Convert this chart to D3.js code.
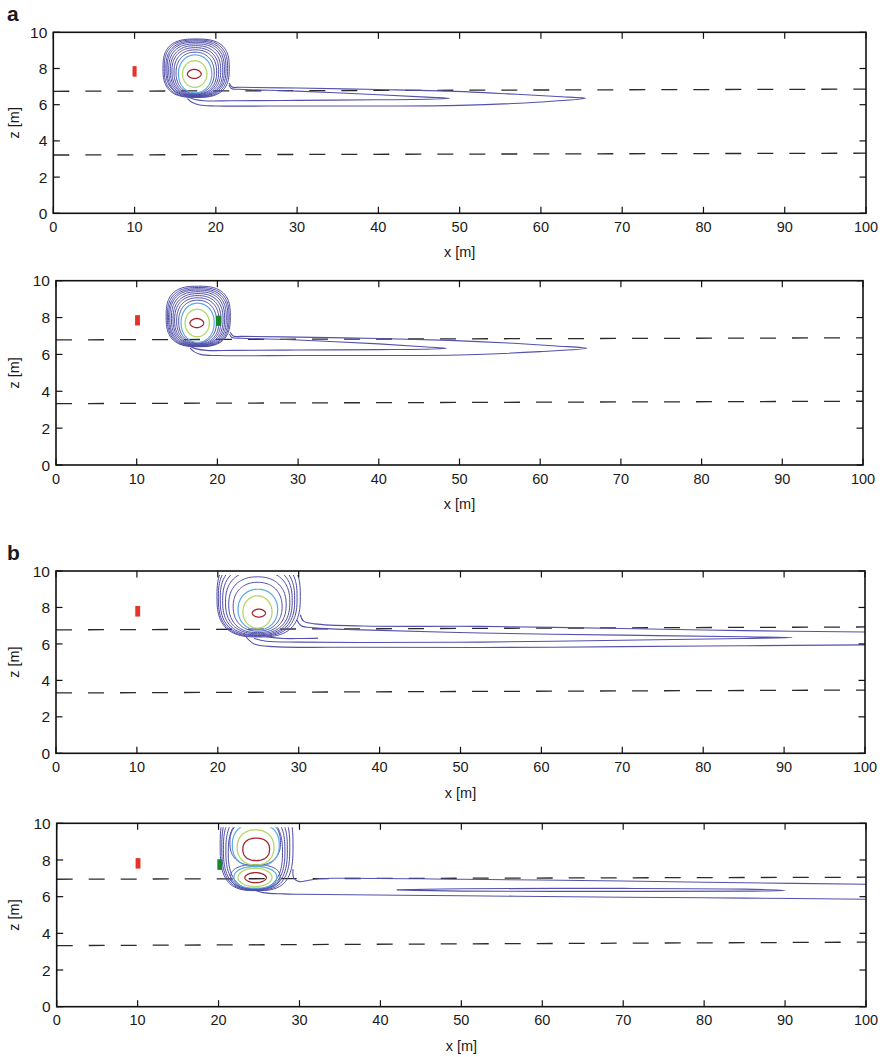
<!DOCTYPE html>
<html><head><meta charset="utf-8">
<script src="https://cdn.jsdelivr.net/npm/d3@7"></script>
<style>
body{margin:0;background:#fff}
svg{display:block}
text{font-family:"Liberation Sans",Arial,Helvetica,sans-serif;fill:#1a1a1a}
</style>
</head><body>
<svg id="chart" width="887" height="1057"></svg>
<script>
// ---------------- data ----------------
const xTicks = [0,10,20,30,40,50,60,70,80,90,100];
const zTicks = [0,2,4,6,8,10];
const xLabel = "x [m]";
const zLabel = "z [m]";
const panelLetters = ["a","b"];

// contour rings: [level, xLeft, xRight, zBottom, zTop, squareness]
// level 0 = innermost (dark red), 1 = green, 2 = light blue, 3 = blue
const rings1 = [
  [0,16.5,18.2,7.45,7.95,1.8],[1,15.9,18.9,6.96,8.43,2.0],[2,15.4,19.5,6.66,8.75,2.1],
  [3,15.1,19.8,6.62,8.9,2.2],[3,14.85,20.1,6.58,9.03,2.3],[3,14.6,20.35,6.55,9.15,2.35],
  [3,14.4,20.6,6.52,9.26,2.4],[3,14.2,20.85,6.5,9.36,2.5],[3,14.0,21.05,6.47,9.45,2.55],
  [3,13.85,21.25,6.45,9.52,2.6],[3,13.65,21.45,6.42,9.58,2.7],[3,13.5,21.65,6.4,9.63,2.8]
];
const rings2 = [
  [0,16.6,18.3,7.45,7.95,1.8],[1,16.0,19.0,6.96,8.45,2.0],[2,15.5,19.6,6.66,8.78,2.1],
  [3,15.2,19.9,6.62,8.94,2.2],[3,14.95,20.2,6.58,9.07,2.3],[3,14.7,20.45,6.55,9.19,2.35],
  [3,14.5,20.7,6.52,9.3,2.4],[3,14.3,20.9,6.5,9.4,2.5],[3,14.1,21.1,6.47,9.49,2.55],
  [3,13.95,21.3,6.45,9.56,2.6],[3,13.8,21.45,6.43,9.63,2.7],[3,13.65,21.6,6.42,9.7,2.8]
];
const rings3 = [
  [0,24.25,25.9,7.47,7.91,1.8],[1,23.1,26.7,6.87,8.64,2.0],[2,22.5,27.4,6.77,9.0,2.1],
  [3,21.9,27.95,6.7,9.38,2.2],[3,21.35,28.45,6.62,9.68,2.3],[3,20.95,28.9,6.56,10.0,2.4],
  [3,20.6,29.2,6.5,10.25,2.5],[3,20.3,29.5,6.46,10.45,2.6],[3,20.07,29.8,6.42,10.65,2.7],
  [3,19.9,30.2,6.38,10.85,2.8]
];
const rings4 = [
  [0,23.0,26.3,7.97,9.19,2.3],[1,22.3,26.85,7.73,9.64,2.2],[2,21.7,27.5,7.64,10.0,2.3],
  [0,23.25,25.9,6.76,7.31,1.9],[1,22.4,26.6,6.55,7.55,2.0],[2,21.9,27.2,6.46,7.64,2.2],
  [3,21.4,27.65,7.7,10.2,2.4],[3,21.5,27.6,6.43,7.75,2.3],
  [3,21.2,27.9,6.42,10.4,2.5],[3,20.9,28.2,6.4,10.6,2.6],[3,20.6,28.5,6.37,10.8,2.7],
  [3,20.4,28.8,6.35,11.0,2.85],[3,20.2,29.2,6.33,11.2,3.0]
];

// open contour branches (tails), [x, z]
const tails1 = [
  [[21.6,7.1],[21.9,6.9],[23,6.85],[30,6.75],[40,6.55],[46,6.42],[48.8,6.35],[46,6.3],[40,6.27],[30,6.24],[22,6.22],[18.5,6.22],[17.3,6.3],[16.6,6.42]],
  [[21.65,7.2],[22.0,6.98],[23,6.96],[30,6.92],[40,6.84],[48.8,6.75],[56,6.6],[62,6.45],[65.5,6.35],[60,6.15],[50,5.96],[40,5.93],[30,5.93],[20,5.93],[18,5.98],[17,6.15],[16.5,6.35]]
];
const tails2 = [
  [[21.5,7.1],[21.8,6.92],[23,6.88],[30,6.78],[40,6.57],[45.5,6.42],[48.4,6.33],[45.5,6.28],[40,6.26],[30,6.24],[22,6.22],[18.6,6.22],[17.4,6.3],[16.7,6.42]],
  [[21.6,7.2],[21.95,7.0],[23,6.98],[30,6.94],[40,6.86],[48.8,6.76],[56,6.62],[62,6.46],[65.8,6.33],[60,6.15],[50,5.97],[40,5.94],[30,5.94],[20,5.94],[18,5.99],[17.1,6.15],[16.6,6.35]]
];
const tails3 = [
  [[30.2,7.6],[30.6,7.25],[32,7.1],[38,6.98],[52.5,6.96],[70,6.85],[85,6.73],[100,6.65]],
  [[29.8,7.3],[30.3,7.0],[32,6.88],[37.8,6.77],[52.5,6.6],[70,6.48],[85,6.39],[91,6.35],[85,6.3],[70,6.2],[52.5,6.1],[37.8,6.08],[30,6.1],[26,6.15],[24.5,6.3]],
  [[26,6.4],[28,6.3],[30.5,6.3],[32.4,6.32]],
  [[23.5,6.38],[24.5,6.0],[27,5.85],[37.8,5.82],[52.5,5.8],[70,5.85],[85,5.9],[100,5.95]]
];
const tails4 = [
  [[29.2,7.5],[29.3,7.0],[30.0,6.82],[31.0,6.88],[32,6.95],[34,7.0],[50,6.95],[70,6.85],[85,6.76],[100,6.68]],
  [[42,6.37],[50,6.43],[70,6.45],[85,6.41],[90,6.33],[85,6.3],[70,6.29],[50,6.3],[42,6.37]],
  [[24.5,6.35],[25.5,6.22],[28,6.15],[30,6.13],[50,6.05],[70,5.97],[85,5.92],[100,5.86]]
];

// dashed layer boundaries [[x,z],[x,z]]
const dash1 = [[[0,6.74],[100,6.86]],[[0,3.22],[100,3.32]]];
const dash2 = [[[0,6.79],[100,6.9]],[[0,3.33],[100,3.46]]];
const dash3 = [[[0,6.77],[100,6.93]],[[0,3.31],[100,3.47]]];
const dash4 = [[[0,6.95],[100,7.06]],[[0,3.33],[100,3.52]]];

// red / green markers [x0, x1, z0, z1]
const red1 = [9.75,10.25,7.55,8.13];
const red2 = [9.8,10.4,7.57,8.13];
const red3 = [9.8,10.4,7.5,8.08];
const red4 = [9.75,10.35,7.53,8.1];
const green2 = [19.8,20.45,7.55,8.1];
const green4 = [19.85,20.45,7.46,8.04];

// ---------------- layout ----------------
const panels = [
  {left:53.3,right:866,top:32.3,bottom:213.3,tickBase:232,labBase:257,rings:rings1,tails:tails1,dash:dash1,red:red1,green:null},
  {left:56,right:863,top:280.7,bottom:465,tickBase:484,labBase:509,rings:rings2,tails:tails2,dash:dash2,red:red2,green:green2},
  {left:56,right:865,top:571,bottom:753.3,tickBase:772,labBase:798,rings:rings3,tails:tails3,dash:dash3,red:red3,green:null},
  {left:56.7,right:866,top:823.3,bottom:1006.7,tickBase:1025,labBase:1051,rings:rings4,tails:tails4,dash:dash4,red:red4,green:green4}
];
const levelColor = ["#a0262a","#b5d66c","#5aabe2","#4c4aa6"];
const levelWidth = [1.3,1.3,1.2,1.0];
const tailColor = "#5351ad";

const svg = d3.select("#chart");

function ringPts(r){
  const [lev,xL,xR,zB,zT,n] = r;
  const cx=(xL+xR)/2, cz=(zB+zT)/2, a=(xR-xL)/2, b=(zT-zB)/2;
  return d3.range(0,120).map(i=>{
    const t = i/120*2*Math.PI, c=Math.cos(t), s=Math.sin(t);
    return [cx + a*Math.sign(c)*Math.pow(Math.abs(c),2/n), cz + b*Math.sign(s)*Math.pow(Math.abs(s),2/n)];
  });
}

panels.forEach((p,pi)=>{
  const x = d3.scaleLinear().domain([0,100]).range([p.left,p.right]);
  const z = d3.scaleLinear().domain([0,10]).range([p.bottom,p.top]);
  const g = svg.append("g");
  const clipId = "clip"+pi;
  g.append("clipPath").attr("id",clipId).append("rect")
    .attr("x",x(0)).attr("y",z(9.78)).attr("width",x(100)-x(0)).attr("height",z(0)-z(9.78));

  const lineXZ = d3.line().x(d=>x(d[0])).y(d=>z(d[1]));
  g.selectAll(".dash").data(p.dash).join("path")
    .attr("d",lineXZ).attr("fill","none").attr("stroke","#2a2a2a")
    .attr("stroke-width",1.3).attr("stroke-dasharray","16,16");

  const cg = g.append("g").attr("clip-path",`url(#${clipId})`);
  const closed = d3.line().x(d=>x(d[0])).y(d=>z(d[1])).curve(d3.curveLinearClosed);
  const order = p.rings.slice().sort((a,b)=>b[0]-a[0]);
  cg.selectAll(".ring").data(order).join("path")
    .attr("d",r=>closed(ringPts(r)))
    .attr("fill","none").attr("stroke",r=>levelColor[r[0]]).attr("stroke-width",r=>levelWidth[r[0]]);
  const open = d3.line().x(d=>x(d[0])).y(d=>z(d[1])).curve(d3.curveCatmullRom.alpha(0.5));
  cg.selectAll(".tail").data(p.tails).join("path")
    .attr("d",open).attr("fill","none").attr("stroke",tailColor).attr("stroke-width",1.1);

  const rect = (m,col)=> g.append("rect").attr("x",x(m[0])).attr("y",z(m[3]))
      .attr("width",x(m[1])-x(m[0])).attr("height",z(m[2])-z(m[3])).attr("fill",col);
  rect(p.red,"#e5332a");
  if(p.green) rect(p.green,"#17872a");

  g.append("rect").attr("x",p.left).attr("y",p.top).attr("width",p.right-p.left).attr("height",p.bottom-p.top)
    .attr("fill","none").attr("stroke","#111").attr("stroke-width",1.6);
  const tl = 6.5;
  xTicks.forEach(t=>{
    g.append("line").attr("x1",x(t)).attr("x2",x(t)).attr("y1",p.bottom).attr("y2",p.bottom-tl).attr("stroke","#111").attr("stroke-width",1.2);
    g.append("line").attr("x1",x(t)).attr("x2",x(t)).attr("y1",p.top).attr("y2",p.top+tl).attr("stroke","#111").attr("stroke-width",1.2);
    g.append("text").attr("x",x(t)).attr("y",p.tickBase).attr("text-anchor","middle")
      .attr("font-size",14.5).text(t);
  });
  zTicks.forEach(t=>{
    g.append("line").attr("x1",p.left).attr("x2",p.left+tl).attr("y1",z(t)).attr("y2",z(t)).attr("stroke","#111").attr("stroke-width",1.2);
    g.append("line").attr("x1",p.right).attr("x2",p.right-tl).attr("y1",z(t)).attr("y2",z(t)).attr("stroke","#111").attr("stroke-width",1.2);
    g.append("text").attr("x",p.left-6).attr("y",z(t)).attr("dy","0.36em").attr("text-anchor","end")
      .attr("font-size",15.5).text(t);
  });
  g.append("text").attr("x",(p.left+p.right)/2).attr("y",p.labBase).attr("text-anchor","middle")
    .attr("font-size",14.5).text(xLabel);
  g.append("text").attr("transform",`translate(19,${(p.top+p.bottom)/2}) rotate(-90)`)
    .attr("text-anchor","middle").attr("font-size",14.5).text(zLabel);
});

svg.append("text").attr("x",7).attr("y",21).attr("font-size",21).attr("font-weight","bold").text(panelLetters[0]);
svg.append("text").attr("x",7).attr("y",560).attr("font-size",21).attr("font-weight","bold").text(panelLetters[1]);
</script>
</body></html>
